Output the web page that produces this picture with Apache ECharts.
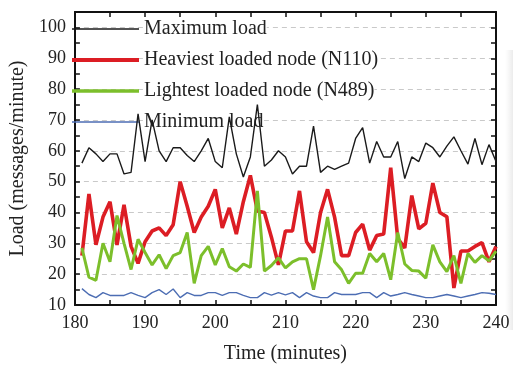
<!DOCTYPE html>
<html>
<head>
<meta charset="utf-8">
<script src="https://cdn.jsdelivr.net/npm/echarts@6/dist/echarts.min.js"></script>
<style>
html,body{margin:0;padding:0;background:#fff;}
#chart{width:513px;height:369px;}
</style>
</head>
<body>
<div id="chart"></div>
<script>
// ---- data ----
var minutes = [181,182,183,184,185,186,187,188,189,190,
               191,192,193,194,195,196,197,198,199,200,
               201,202,203,204,205,206,207,208,209,210,
               211,212,213,214,215,216,217,218,219,220,
               221,222,223,224,225,226,227,228,229,230,
               231,232,233,234,235,236,237,238,239,240];

var maxLoad = [56,61,59,56.5,59,59,52.5,53,72,56.5,
               70,60,56.5,61,61,58.5,56.5,60,64,56.5,
               54.5,71,59,51.5,58,75,55,57,60,58,
               52.5,55,55,68,53,55,54,55,56,64,
               67.5,56,63,58,58,63,51,58,56.5,62.5,
               61,58,61.5,64.5,60,55.7,64,55.5,62,56.5];

var heaviest = [26,46,29.5,38.5,43.5,29.5,42.5,29,23.5,30.5,
                34,35,32.5,36,50,42,33.5,38.5,42,47.5,
                35,41.5,33,43.5,52,40.5,40,32,23,34,
                34,47,30.5,27,40,47.5,38.5,26,26,33.5,
                36.2,27.8,32.5,33,54.5,31.5,28.5,45.5,34.7,36.5,
                49.5,40,38.6,15.5,27.5,27.5,29,30.2,24,29];

var lightest = [28.5,19,18,30,24,39,30,21.5,31.3,27,
                23,26.3,21.8,26,27,33.5,17,26,29,23,
                28.3,22.4,21,23.3,22.2,47,21,22.8,25.3,22,
                24,25,25,15,26,38.5,24,21.4,17,20.3,
                20.3,26.7,24,26.7,18.2,33.5,23.3,21.2,21,18.7,
                29.5,24,20.8,26,17,26.7,23.8,26,24.3,27.5];

var minLoad = [15.3,13.4,12.4,14,13.1,13.1,13.1,14,13.1,12.4,
               14,15,13.4,15.2,12.4,14,13.1,13.1,14,14,
               13.1,14,14,13.1,12.4,12.4,14,13.2,14,13.3,
               14,12.4,14,12.9,12.4,12.4,14,13.4,13.4,13.4,
               14,14,12.4,14,12.9,13.4,14,13.4,12.9,12.4,
               12.4,12.9,13.4,12.9,12.4,12.9,13.4,14,13.8,13.4];

var seriesNames = ['Maximum load','Heaviest loaded node (N110)','Lightest loaded node (N489)','Minimum load'];
var xTickLabels = [180,190,200,210,220,230,240];
var yTickLabels = [10,20,30,40,50,60,70,80,90,100];

function pairs(vals){ return minutes.map(function(m,i){ return [m, vals[i]]; }); }

var FONT = '"Liberation Serif", "DejaVu Serif", serif';
var TXT = '#222';

var chart = echarts.init(document.getElementById('chart'), null, {renderer:'canvas'});

var tickCommon = {show:true, inside:true, length:5, lineStyle:{color:'#111', width:1.5}};
var lineCommon = {show:true, onZero:false, lineStyle:{color:'#111', width:2}};

var option = {
  backgroundColor:'#fff',
  animation:false,
  grid:{left:70, right:17, top:12, bottom:58, containLabel:false},
  legend:{
    orient:'vertical', left:70, top:19, z:1, padding:0,
    itemWidth:67, itemHeight:20, itemGap:11,
    itemStyle:{opacity:0},
    textStyle:{fontFamily:FONT, fontSize:20, color:TXT, backgroundColor:'#fff', lineHeight:20},
    data:[
      {name:seriesNames[0], lineStyle:{width:1.5}},
      {name:seriesNames[1], lineStyle:{width:4}},
      {name:seriesNames[2], lineStyle:{width:3.5}},
      {name:seriesNames[3], lineStyle:{width:1.5}}
    ]
  },
  xAxis:[
    {type:'value', position:'bottom', min:180, max:240, interval:5,
     axisLine:lineCommon, axisTick:tickCommon, splitLine:{show:false},
     axisLabel:{margin:9, fontFamily:FONT, fontSize:18, color:TXT,
       formatter:function(v){ return xTickLabels.indexOf(v) >= 0 ? String(v) : ''; }},
     name:'Time (minutes)', nameLocation:'middle', nameGap:39,
     nameTextStyle:{fontFamily:FONT, fontSize:20, color:TXT}},
    {type:'value', position:'top', min:180, max:240, interval:5,
     axisLine:lineCommon, axisTick:tickCommon, axisLabel:{show:false}, splitLine:{show:false}}
  ],
  yAxis:[
    {type:'value', position:'left', min:10, max:105, interval:5,
     axisLine:lineCommon, axisTick:tickCommon, splitLine:{show:false},
     axisLabel:{margin:9, fontFamily:FONT, fontSize:18, color:TXT, showMaxLabel:false,
       formatter:function(v){ return yTickLabels.indexOf(v) >= 0 ? String(v) : ''; }},
     name:'Load (messages/minute)', nameLocation:'middle', nameGap:36, nameRotate:90,
     nameTextStyle:{fontFamily:FONT, fontSize:20, color:TXT}},
    {type:'value', position:'right', min:10, max:105, interval:5,
     axisLine:lineCommon, axisTick:tickCommon, axisLabel:{show:false}, splitLine:{show:false}},
    {type:'value', position:'left', min:10, max:105, interval:10,
     axisLine:{show:false}, axisTick:{show:false}, axisLabel:{show:false},
     splitLine:{show:true, lineStyle:{color:'#c9c9c9', width:1, type:[5,4]}}}
  ],
  series:[
    {name:seriesNames[0], type:'line', data:pairs(maxLoad), symbol:'none',
     lineStyle:{color:'#1a1a1a', width:1.4}, itemStyle:{color:'#1a1a1a'}},
    {name:seriesNames[1], type:'line', data:pairs(heaviest), symbol:'none',
     lineStyle:{color:'#dc1d24', width:3.6}, itemStyle:{color:'#dc1d24'}},
    {name:seriesNames[2], type:'line', data:pairs(lightest), symbol:'none',
     lineStyle:{color:'#7cbf2b', width:3}, itemStyle:{color:'#7cbf2b'}},
    {name:seriesNames[3], type:'line', data:pairs(minLoad), symbol:'none',
     lineStyle:{color:'#4c6db3', width:1.4}, itemStyle:{color:'#4c6db3'}}
  ],
  graphic:[
    {type:'rect', left:505, top:50, shape:{width:8, height:280}, silent:true,
     style:{fill:new echarts.graphic.LinearGradient(0,0,1,0,[
       {offset:0, color:'rgba(210,210,210,0)'},
       {offset:1, color:'rgba(200,200,200,0.35)'}])}}
  ]
};
chart.setOption(option);
</script>
</body>
</html>
